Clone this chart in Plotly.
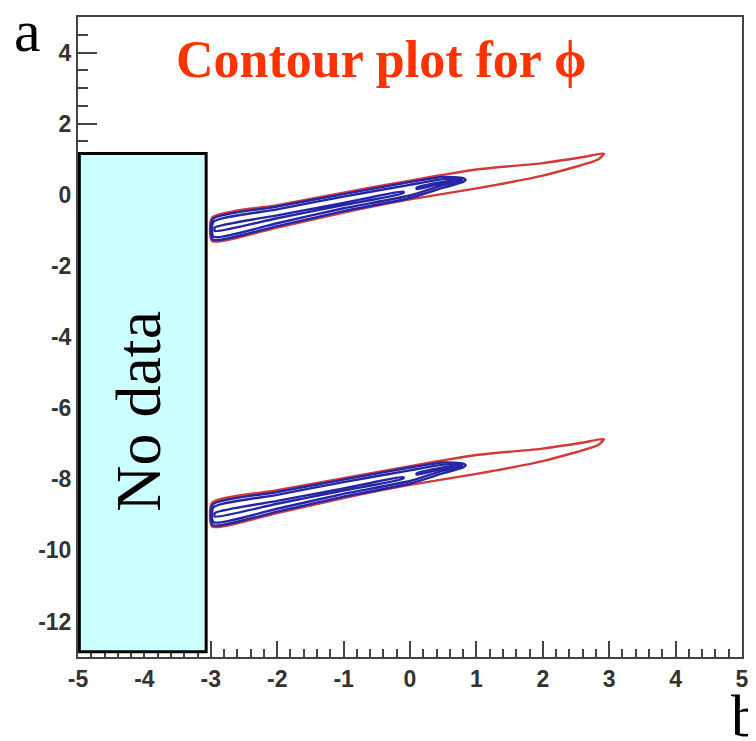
import plotly.graph_objects as go

# ---- data ----
# upper island: outer (red) contour
red_up_x = [-2.98, -2.0, -1.0, 0.0, 1.0, 2.0, 2.6, 2.92, 2.84, 2.0, 1.0, 0.0, -1.0, -2.0, -2.98, -2.98]
red_up_y = [-0.64, -0.29, 0.06, 0.40, 0.71, 0.89, 1.06, 1.16, 1.00, 0.54, 0.18, -0.13, -0.50, -0.92, -1.30, -0.64]
# upper island: blue contours
blue1_up_x = [-2.97, -2.0, -1.0, 0.0, 0.5, 0.80, 0.84, 0.80, 0.5, 0.0, -1.0, -2.0, -2.97, -2.97]
blue1_up_y = [-0.68, -0.33, 0.02, 0.36, 0.50, 0.47, 0.42, 0.36, 0.20, -0.09, -0.46, -0.88, -1.26, -0.68]
blue2_up_x = [-2.96, -2.0, -1.0, 0.0, 0.5, 0.78, 0.78, 0.5, 0.0, -1.0, -2.0, -2.96, -2.96]
blue2_up_y = [-0.76, -0.41, -0.05, 0.28, 0.44, 0.44, 0.39, 0.27, -0.02, -0.38, -0.80, -1.18, -0.76]
blue3_up_x = [-2.94, -2.0, -1.0, -0.1, -0.1, -1.0, -2.0, -2.94, -2.94]
blue3_up_y = [-0.92, -0.58, -0.23, 0.09, 0.05, -0.29, -0.66, -1.02, -0.92]
blue4_up_x = [0.10, 0.40, 0.75, 0.75, 0.40, 0.10, 0.10]
blue4_up_y = [0.20, 0.33, 0.42, 0.38, 0.28, 0.16, 0.20]

# lower island: outer (red) contour
red_lo_x = [-2.98, -2.0, -1.0, 0.0, 1.0, 2.0, 2.6, 2.92, 2.84, 2.0, 1.0, 0.0, -1.0, -2.0, -2.98, -2.98]
red_lo_y = [-8.66, -8.31, -7.97, -7.63, -7.32, -7.14, -6.97, -6.87, -7.03, -7.49, -7.85, -8.16, -8.53, -8.95, -9.33, -8.66]
# lower island: blue contours
blue1_lo_x = [-2.97, -2.0, -1.0, 0.0, 0.5, 0.80, 0.84, 0.80, 0.5, 0.0, -1.0, -2.0, -2.97, -2.97]
blue1_lo_y = [-8.71, -8.36, -8.01, -7.67, -7.53, -7.56, -7.61, -7.67, -7.83, -8.12, -8.49, -8.91, -9.29, -8.71]
blue2_lo_x = [-2.96, -2.0, -1.0, 0.0, 0.5, 0.78, 0.78, 0.5, 0.0, -1.0, -2.0, -2.96, -2.96]
blue2_lo_y = [-8.79, -8.44, -8.08, -7.75, -7.59, -7.59, -7.64, -7.76, -8.05, -8.41, -8.83, -9.21, -8.79]
blue3_lo_x = [-2.94, -2.0, -1.0, -0.1, -0.1, -1.0, -2.0, -2.94, -2.94]
blue3_lo_y = [-8.95, -8.61, -8.26, -7.94, -7.98, -8.32, -8.69, -9.05, -8.95]
blue4_lo_x = [0.10, 0.40, 0.75, 0.75, 0.40, 0.10, 0.10]
blue4_lo_y = [-7.83, -7.70, -7.61, -7.65, -7.75, -7.87, -7.83]

# "No data" region
nodata_x = [-4.98, -3.07]
nodata_y = [-12.85, 1.16]

x_range = [-5, 5]
y_range = [-13, 5]
x_tickvals = [-5, -4, -3, -2, -1, 0, 1, 2, 3, 4, 5]
x_ticktext = ["-5", "-4", "-3", "-2", "-1", "0", "1", "2", "3", "4", "5"]
y_tickvals = [-12, -10, -8, -6, -4, -2, 0, 2, 4]
y_ticktext = ["-12", "-10", "-8", "-6", "-4", "-2", "0", "2", "4"]

title_text = "Contour plot for \u03d5"

RED = "#d23a3a"
BLUE = "#2525a5"

fig = go.Figure()

def add_line(xs, ys, color, width):
    fig.add_trace(go.Scatter(x=xs, y=ys, mode="lines",
                             line=dict(color=color, width=width, shape="spline", smoothing=0.6),
                             hoverinfo="skip", showlegend=False))

add_line(red_up_x, red_up_y, RED, 2.4)
add_line(red_lo_x, red_lo_y, RED, 2.4)
for xs, ys in [(blue1_up_x, blue1_up_y), (blue2_up_x, blue2_up_y), (blue3_up_x, blue3_up_y), (blue4_up_x, blue4_up_y),
               (blue1_lo_x, blue1_lo_y), (blue2_lo_x, blue2_lo_y), (blue3_lo_x, blue3_lo_y), (blue4_lo_x, blue4_lo_y)]:
    add_line(xs, ys, BLUE, 2.4)

fig.add_shape(type="rect", xref="x", yref="y",
              x0=nodata_x[0], x1=nodata_x[1], y0=nodata_y[0], y1=nodata_y[1],
              fillcolor="#ccffff", line=dict(color="black", width=3), layer="above")

fig.add_annotation(x=-4.08, y=-6.1, xref="x", yref="y",
                   text="No data", textangle=-90, showarrow=False,
                   font=dict(family="Liberation Serif", size=64, color="black"))

fig.add_annotation(x=0.457, y=0.934, xref="paper", yref="paper", text=title_text,
                   showarrow=False, xanchor="center", yanchor="middle",
                   font=dict(family="Liberation Serif", size=52, color="#ff3300", weight="bold"))

fig.add_annotation(x=-0.076, y=0.978, xref="paper", yref="paper", text="a",
                   showarrow=False, xanchor="center", yanchor="middle",
                   font=dict(family="Liberation Serif", size=60, color="black"))

fig.add_annotation(x=0.98, y=-0.038, xref="paper", yref="paper", text="b",
                   showarrow=False, xanchor="left", yanchor="top",
                   font=dict(family="Liberation Serif", size=60, color="black"))

axis_common = dict(showgrid=False, zeroline=False, showline=True, mirror=True,
                   linecolor="#444444", linewidth=2, ticks="inside", tickcolor="#444444",
                   tickwidth=2, tickmode="array",
                   tickfont=dict(family="Liberation Sans", size=23, color="#333333", weight="bold"))

fig.update_xaxes(range=x_range, tickvals=x_tickvals, ticktext=x_ticktext, ticklen=16,
                 minor=dict(dtick=0.2, tick0=0, ticklen=8, ticks="inside", tickcolor="#444444", tickwidth=1.5),
                 ticklabelstandoff=0, **axis_common)
fig.update_yaxes(range=y_range, tickvals=y_tickvals, ticktext=y_ticktext, ticklen=19,
                 minor=dict(dtick=0.5, tick0=0, ticklen=10, ticks="inside", tickcolor="#444444", tickwidth=1.5),
                 ticklabelstandoff=0, **axis_common)

# the page body adds an 8 px offset, so the figure is 8 px smaller and margins shifted
fig.update_layout(width=748, height=733, margin=dict(l=70, r=8, t=7, b=84),
                  plot_bgcolor="white", paper_bgcolor="white", showlegend=False)

fig.write_html("out.html")
